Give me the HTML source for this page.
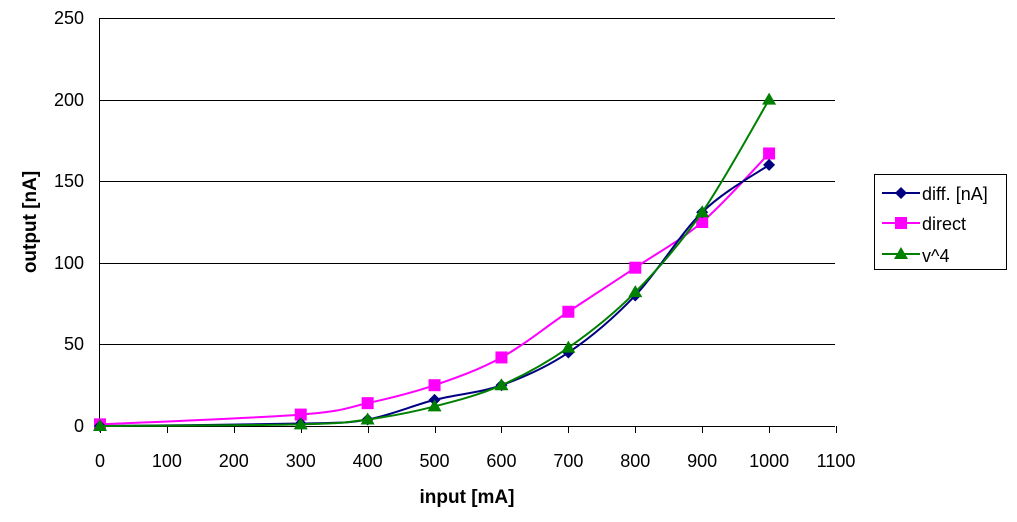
<!DOCTYPE html>
<html><head><meta charset="utf-8"><style>
body{margin:0;background:#fff;width:1017px;height:517px;overflow:hidden}
svg{font-family:"Liberation Sans",Arial,sans-serif}
</style></head><body>
<svg id="s" width="1017" height="517" xmlns="http://www.w3.org/2000/svg">
<g stroke="#000" stroke-width="1">
<line x1="100" y1="18.5" x2="835" y2="18.5"/>
<line x1="100" y1="100.5" x2="835" y2="100.5"/>
<line x1="100" y1="181.5" x2="835" y2="181.5"/>
<line x1="100" y1="263.5" x2="835" y2="263.5"/>
<line x1="100" y1="344.5" x2="835" y2="344.5"/>
<line x1="100" y1="426.5" x2="835" y2="426.5"/>
<line x1="99.5" y1="18" x2="99.5" y2="427"/>
</g>
<g id="ticks" stroke="#000"></g>
<g font-size="18" text-anchor="end" fill="#000">
<text x="84" y="24">250</text><text x="84" y="106">200</text><text x="84" y="187">150</text>
<text x="84" y="269">100</text><text x="84" y="350">50</text><text x="84" y="432">0</text>
</g>
<g id="xl" font-size="18" text-anchor="middle"></g>
<text x="467" y="503" font-size="19" font-weight="bold" text-anchor="middle">input [mA]</text>
<text transform="translate(36,222) rotate(-90)" font-size="19" font-weight="bold" text-anchor="middle">output [nA]</text>
<g id="series"></g>
<rect x="874.5" y="174.5" width="132" height="95" fill="#fff" stroke="#000"/>
<line x1="882" y1="193" x2="920" y2="193" stroke="#000080" stroke-width="2"/>
<polygon points="901,187 907,193 901,199 895,193" fill="#000080"/>
<text x="922" y="200" font-size="18">diff. [nA]</text>
<line x1="882" y1="223" x2="920" y2="223" stroke="#ff00ff" stroke-width="2"/>
<rect x="895" y="217" width="12" height="12" fill="#ff00ff"/>
<text x="922" y="230" font-size="18">direct</text>
<line x1="882" y1="254" x2="920" y2="254" stroke="#008000" stroke-width="2"/>
<polygon points="901,247 908,259 894,259" fill="#008000"/>
<text x="922" y="262" font-size="18">v^4</text>
</svg>
<script>
const X=v=>100+v*0.6691, Y=v=>426-v*1.632;
const NS="http://www.w3.org/2000/svg";
let t=document.getElementById('ticks'),xl=document.getElementById('xl');
for(let v=0;v<=1100;v+=100){let x=Math.round(X(v))+0.5;
 let l=document.createElementNS(NS,'line');l.setAttribute('x1',x);l.setAttribute('x2',x);l.setAttribute('y1',426);l.setAttribute('y2',433);t.appendChild(l);
 let tx=document.createElementNS(NS,'text');tx.setAttribute('x',X(v));tx.setAttribute('y',467);tx.textContent=v;xl.appendChild(tx);}
const xs=[0,300,400,500,600,700,800,900,1000];
const S=[
 {c:'#ff00ff',m:'sq',d:[1,7,14,25,42,70,97,125,167]},
 {c:'#000080',m:'di',d:[0,1.5,4,16,25,45,80,131,160]},
 {c:'#008000',m:'tr',d:[0,1,4,12,25,48,82,131,200]}];
let g=document.getElementById('series');
S.forEach(s=>{
 let p=xs.map((x,i)=>[X(x),Y(s.d[i])]);
 let d='M'+p[0];
 for(let i=0;i<p.length-1;i++){let p0=p[i-1]||p[i],p1=p[i],p2=p[i+1],p3=p[i+2]||p2;
  let c1=[p1[0]+(p2[0]-p0[0])/6,p1[1]+(p2[1]-p0[1])/6],c2=[p2[0]-(p3[0]-p1[0])/6,p2[1]-(p3[1]-p1[1])/6];
  d+=' C'+c1+' '+c2+' '+p2;}
 let path=document.createElementNS(NS,'path');path.setAttribute('d',d);path.setAttribute('fill','none');path.setAttribute('stroke',s.c);path.setAttribute('stroke-width',2);g.appendChild(path);
 p.forEach(([x,y])=>{let e;
  if(s.m=='sq'){e=document.createElementNS(NS,'rect');e.setAttribute('x',x-6);e.setAttribute('y',y-6);e.setAttribute('width',12);e.setAttribute('height',12);}
  else if(s.m=='di'){e=document.createElementNS(NS,'polygon');e.setAttribute('points',`${x},${y-6} ${x+6},${y} ${x},${y+6} ${x-6},${y}`);}
  else{e=document.createElementNS(NS,'polygon');e.setAttribute('points',`${x},${y-7} ${x+7},${y+5} ${x-7},${y+5}`);}
  e.setAttribute('fill',s.c);g.appendChild(e);});
});
</script>
</body></html>
